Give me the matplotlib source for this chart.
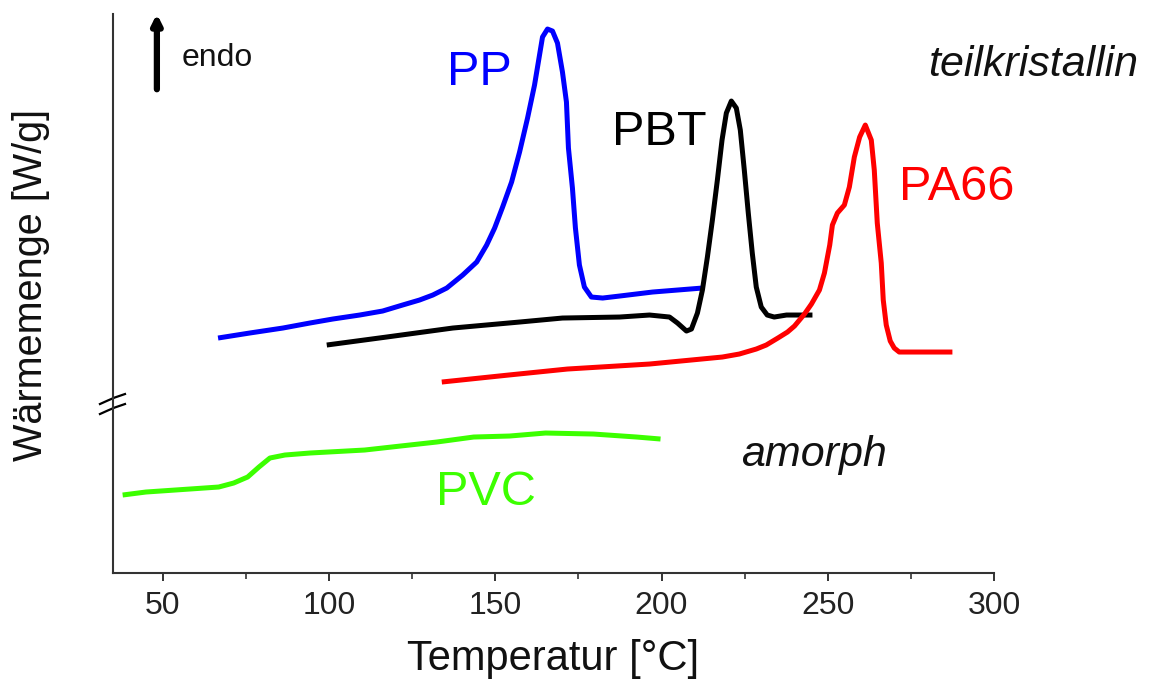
import numpy as np
import matplotlib
matplotlib.use("Agg")
import matplotlib.pyplot as plt
from matplotlib.ticker import MultipleLocator

plt.rcParams['font.family'] = ['Liberation Sans', 'DejaVu Sans']

# DSC curves, temperature in degC, heat flow in arbitrary units (endo up)
pp_T = [66.6, 76.1, 86.1, 94.2, 101.1, 109.2, 116.1, 122.1, 127.2, 131.2, 135.4, 140.2,
        144.4, 147.4, 149.8, 152.2, 154.9, 157.3, 159.7, 161.8, 163.3, 164.2, 165.7, 167.2,
        168.7, 170.2, 171.4, 172.0, 173.2, 174.1, 175.3, 176.8, 178.9, 182.3, 187.4, 197.3, 212.3]
pp_q = [235, 240, 245, 250, 254, 258, 262, 268, 273, 278, 285, 298,
        311, 328, 345, 366, 391, 421, 455, 488, 518, 536, 544, 542,
        530, 501, 471, 425, 385, 345, 308, 286, 276, 275, 277, 281, 285]

pbt_T = [99.3, 117.3, 137.2, 157.3, 170.2, 187.4, 196.4, 202.4, 204.8, 207.5, 209.0, 210.8,
         212.3, 213.8, 215.3, 216.8, 218.2, 219.5, 221.0, 222.5, 223.7, 224.9, 226.1, 227.3,
         228.5, 230.0, 231.8, 233.9, 237.6, 245.4]
pbt_q = [228, 236, 245, 251, 255, 256, 258, 256, 250, 242, 244, 260,
         283, 316, 353, 393, 433, 460, 472, 465, 443, 403, 360, 320,
         286, 266, 258, 256, 258, 258]

pa66_T = [133.9, 154.0, 171.7, 196.4, 218.3, 223.4, 228.5, 231.5, 235.0, 237.9, 240.0, 243.0,
          245.1, 247.5, 249.0, 250.6, 251.4, 252.9, 255.0, 256.5, 258.0, 259.6, 261.3, 263.1,
          264.0, 264.9, 266.1, 266.7, 267.6, 268.8, 270.0, 271.5, 287.5]
pa66_q = [191, 198, 204, 209, 216, 219, 224, 228, 235, 241, 247, 259,
          269, 283, 300, 328, 348, 360, 368, 386, 416, 436, 448, 433,
          403, 350, 310, 273, 248, 232, 225, 221, 221]

pvc_T = [37.9, 44.9, 58.1, 66.8, 71.3, 75.5, 78.9, 82.2, 86.7, 94.2, 110.7, 121.5,
         132.4, 143.5, 154.3, 165.1, 179.5, 192.5, 199.7]
pvc_q = [78, 81, 84, 86, 90, 96, 106, 115, 118, 120, 123, 127,
         131, 136, 137, 140, 139, 136, 134]

fig = plt.figure(figsize=(11.59, 6.82), dpi=100)
ax = fig.add_axes([0.0975, 0.1598, 0.7601, 0.8196])

lw = 3.6
for T, q, c in [(pp_T, pp_q, '#0000ff'), (pbt_T, pbt_q, 'black'),
                (pa66_T, pa66_q, '#ff0000'), (pvc_T, pvc_q, '#3cff00')]:
    ax.plot(T, q, color=c, lw=lw, solid_joinstyle='round', solid_capstyle='butt')

ax.set_xlim(35, 300)
ax.set_ylim(0, 559)

for s in ['top', 'right']:
    ax.spines[s].set_visible(False)
for s in ['left', 'bottom']:
    ax.spines[s].set_linewidth(1.5)
    ax.spines[s].set_color('#333333')

ax.xaxis.set_major_locator(MultipleLocator(50))
ax.xaxis.set_minor_locator(MultipleLocator(25))
ax.tick_params(axis='x', which='major', direction='out', length=6, width=1.4,
               color='#333333', labelcolor='#222222', pad=7)
ax.tick_params(axis='x', which='minor', direction='out', length=4.5, width=1.2, color='#333333')
for lab in ax.get_xticklabels():
    lab.set_fontfamily(['Liberation Sans Narrow', 'Liberation Sans'])
    lab.set_fontsize(23)
ax.set_yticks([])

ax.set_xlabel('Temperatur [°C]', fontsize=30, color='#111111')
ax.xaxis.set_label_coords(0.5, -0.118)
ax.set_ylabel('Wärmemenge [W/g]', fontsize=28.5, color='#111111')
ax.yaxis.set_label_coords(-0.071, 0.515)

# axis break on the y axis
trans = ax.get_yaxis_transform()
for y0 in [164, 174]:
    ax.plot([-0.0148, -0.006, 0.002, 0.0136], [y0 - 5, y0 - 1.5, y0 + 1.5, y0 + 5],
            transform=trans, color='black', lw=1.6, clip_on=False)

# endo arrow
ax.annotate('', xy=(48.2, 562), xytext=(48.2, 481),
            arrowprops=dict(arrowstyle='-|>', lw=4.5, color='black', mutation_scale=14),
            annotation_clip=False)
ax.text(55.7, 515, 'endo', fontsize=23, color='#111111', va='center', ha='left')

ax.text(145.3, 501, 'PP', fontsize=35, color='#0000ff', ha='center', va='center')
ax.text(199.4, 441, 'PBT', fontsize=35, color='black', ha='center', va='center')
ax.text(288.7, 386, 'PA66', fontsize=35, color='#ff0000', ha='center', va='center')
ax.text(147.1, 81, 'PVC', fontsize=35, color='#3cff00', ha='center', va='center')

ax.text(311.8, 508, 'teilkristallin', fontsize=31, style='italic', color='#111111',
        ha='center', va='center', clip_on=False)
ax.text(245.7, 118, 'amorph', fontsize=31, style='italic', color='#111111',
        ha='center', va='center')

fig.savefig('out.png', dpi=100)
